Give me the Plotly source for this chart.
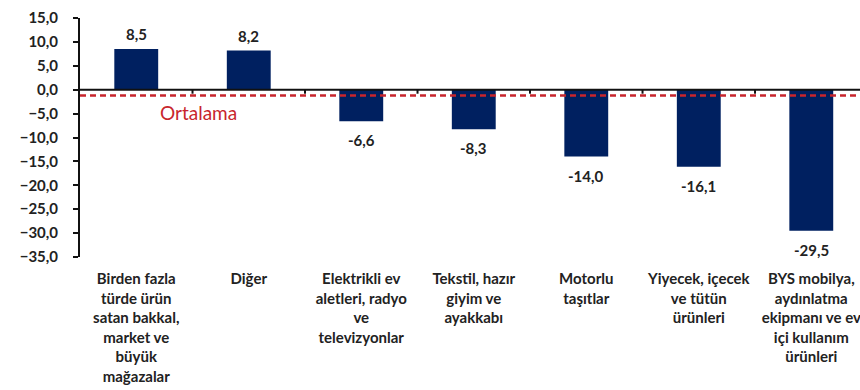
import plotly.graph_objects as go

# Sector values (% change) and the overall average
categories = [
    "Birden fazla<br>türde ürün<br>satan bakkal,<br>market ve<br>büyük<br>mağazalar",
    "Diğer",
    "Elektrikli ev<br>aletleri, radyo<br>ve<br>televizyonlar",
    "Tekstil, hazır<br>giyim ve<br>ayakkabı",
    "Motorlu<br>taşıtlar",
    "Yiyecek, içecek<br>ve tütün<br>ürünleri",
    "BYS mobilya,<br>aydınlatma<br>ekipmanı ve ev<br>içi kullanım<br>ürünleri",
]
values = [8.5, 8.2, -6.6, -8.3, -14.0, -16.1, -29.5]
average = -1.2
average_label = "Ortalama"
y_ticks = [15, 10, 5, 0, -5, -10, -15, -20, -25, -30, -35]

FONT = "Lato"
NAVY = "#002060"
RED = "#C8252C"

x_idx = list(range(len(categories)))

fig = go.Figure()
fig.add_trace(go.Bar(
    x=x_idx, y=values, marker=dict(color=NAVY, line=dict(width=0)),
    hoverinfo="skip", showlegend=False,
))

# Value labels above positive bars, below negative bars
for i, v in zip(x_idx, values):
    fig.add_annotation(
        x=i, y=v, text=f"{v:.1f}".replace(".", ","), showarrow=False,
        yshift=15 if v >= 0 else -19,
        font=dict(family=FONT, size=15, color="#222222", weight="bold"),
    )

# Zero line across the plot
fig.add_shape(type="line", xref="x domain", yref="y", x0=0, x1=1, y0=0, y1=0,
              line=dict(color="#111111", width=2), layer="above")
# Small category-boundary ticks on the zero line
for i in x_idx:
    fig.add_shape(type="line", xref="x", yref="y", x0=i + 0.5, x1=i + 0.5,
                  ysizemode="pixel", yanchor=0, y0=0, y1=-4,
                  line=dict(color="#111111", width=2), layer="above")

# Average line
fig.add_shape(type="line", xref="x domain", yref="y", x0=0, x1=1,
              y0=average, y1=average,
              line=dict(color=RED, width=2.5, dash="6px,4px"), layer="above")
fig.add_annotation(x=0.55, y=average, text=average_label, showarrow=False,
                   yshift=-17, font=dict(family=FONT, size=19, color=RED))

fig.update_layout(
    width=860, height=390,
    margin=dict(l=80, r=0, t=18, b=133),
    paper_bgcolor="white", plot_bgcolor="white",
    separators=",.",
    bargap=0.61,
    showlegend=False,
    xaxis=dict(
        tickmode="array", tickvals=x_idx, ticktext=categories,
        range=[-0.5, 6.433], showline=False, ticks="", showgrid=False,
        zeroline=False, fixedrange=True, ticklabelstandoff=11,
        ticklabeloverflow="allow",
        tickfont=dict(family=FONT, size=15, color="#222222", weight="bold"),
        tickangle=0,
    ),
    yaxis=dict(
        range=[-35, 15], tickmode="array", tickvals=y_ticks, tickformat=".1f",
        showline=True, linecolor="#111111", linewidth=2,
        ticks="outside", ticklen=5, tickwidth=2, tickcolor="#111111",
        showgrid=False, zeroline=False, ticklabelstandoff=12,
        tickfont=dict(family=FONT, size=15, color="#222222", weight="bold"),
    ),
)

fig.write_html("out.html")
